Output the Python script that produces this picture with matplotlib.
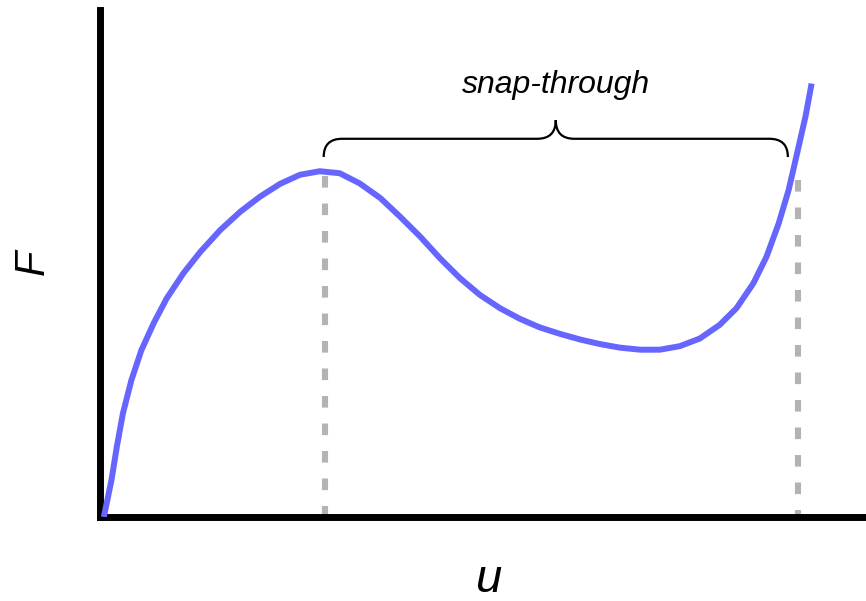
import matplotlib
matplotlib.use("Agg")
from matplotlib import pyplot as plt
from matplotlib.path import Path
from matplotlib.patches import PathPatch

# load-displacement curve (axes fractions)
u_vals = [0.005, 0.015, 0.022, 0.030, 0.041, 0.054, 0.070, 0.087, 0.109, 0.131,
          0.157, 0.183, 0.209, 0.235, 0.261, 0.287, 0.313, 0.339, 0.366, 0.392,
          0.418, 0.444, 0.470, 0.496, 0.522, 0.548, 0.574, 0.601, 0.627, 0.653,
          0.679, 0.705, 0.731, 0.757, 0.783, 0.809, 0.831, 0.853, 0.870, 0.886,
          0.899, 0.910, 0.921, 0.929]
F_vals = [0.000, 0.073, 0.139, 0.205, 0.270, 0.329, 0.382, 0.431, 0.481, 0.523,
          0.566, 0.602, 0.632, 0.657, 0.675, 0.682, 0.678, 0.658, 0.629, 0.592,
          0.553, 0.510, 0.471, 0.438, 0.412, 0.391, 0.374, 0.361, 0.350, 0.341,
          0.334, 0.330, 0.330, 0.337, 0.352, 0.379, 0.412, 0.461, 0.513, 0.579,
          0.645, 0.717, 0.790, 0.855]

# snap-through limits: u position and top of the dashed marker
snap_u = [0.294, 0.911]
snap_F = [0.672, 0.665]

brace_label = "snap-through"
brace_u = (0.292, 0.898)   # ends of the brace
brace_F = (0.710, 0.746, 0.783)  # tips, flat part, cusp

CURVE_COL = "#6666ff"
DASH_COL = "#b3b3b3"

fig = plt.figure(figsize=(8.66, 6.01), dpi=100)
ax = fig.add_axes([100 / 866, 84 / 601, 766 / 866, 507 / 601])
ax.set_xlim(0, 1)
ax.set_ylim(0, 1)

ax.plot(u_vals, F_vals, color=CURVE_COL, lw=4.3, solid_capstyle="butt",
        solid_joinstyle="round", zorder=3)

# dashes drawn from the top down so the pattern starts under the curve
for u, f in zip(snap_u, snap_F):
    ax.plot([u, u], [f, 0], color=DASH_COL, lw=4.4,
            dashes=(1.9, 2.6), zorder=2)

# curly brace over the snap-through range
x0, x1 = brace_u
y0, y1, y2 = brace_F
xm = (x0 + x1) / 2
r = 0.024
verts = [(x0, y0), (x0, y1), (x0 + r, y1),
         (xm - r, y1), (xm, y1), (xm, y2),
         (xm, y1), (xm + r, y1),
         (x1 - r, y1), (x1, y1), (x1, y0)]
codes = [Path.MOVETO, Path.CURVE3, Path.CURVE3,
         Path.LINETO, Path.CURVE3, Path.CURVE3,
         Path.CURVE3, Path.CURVE3,
         Path.LINETO, Path.CURVE3, Path.CURVE3]
ax.add_patch(PathPatch(Path(verts, codes), fill=False, lw=1.6, color="black"))
ax.text(xm, 0.852, brace_label, ha="center", va="center", fontsize=23,
        style="italic", family="Liberation Sans")

for s in ["top", "right"]:
    ax.spines[s].set_visible(False)
for s in ["left", "bottom"]:
    ax.spines[s].set_linewidth(5)
    ax.spines[s].set_color("black")
ax.set_xticks([])
ax.set_yticks([])

fig.text(488 / 866, 1 - 592 / 601, "u", ha="center", va="baseline", fontsize=34,
         style="italic", family="Liberation Sans")
fig.text(33 / 866, 1 - 262 / 601, "F", ha="center", va="center", fontsize=30,
         style="italic", rotation=90, family="Liberation Sans")

fig.savefig("out.png", dpi=100)
